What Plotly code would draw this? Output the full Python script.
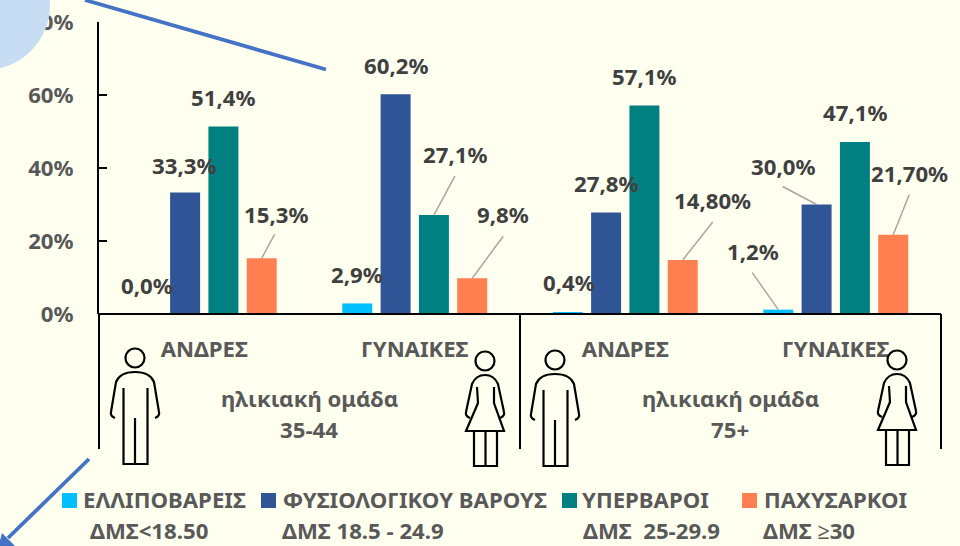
import plotly.graph_objects as go

# ---- data ----
GROUP_LABELS = ["ΑΝΔΡΕΣ", "ΓΥΝΑΙΚΕΣ", "ΑΝΔΡΕΣ", "ΓΥΝΑΙΚΕΣ"]
SERIES_NAMES = ["ΕΛΛΙΠΟΒΑΡΕΙΣ", "ΦΥΣΙΟΛΟΓΙΚΟΥ ΒΑΡΟΥΣ", "ΥΠΕΡΒΑΡΟΙ", "ΠΑΧΥΣΑΡΚΟΙ"]
SERIES_NOTES = ["ΔΜΣ<18.50", "ΔΜΣ 18.5 - 24.9", "ΔΜΣ  25-29.9", "ΔΜΣ ≥30"]
UNDERWEIGHT = [0.0, 2.9, 0.4, 1.2]
NORMAL = [33.3, 60.2, 27.8, 30.0]
OVERWEIGHT = [51.4, 27.1, 57.1, 47.1]
OBESE = [15.3, 9.8, 14.8, 21.7]
LABELS_UNDERWEIGHT = ["0,0%", "2,9%", "0,4%", "1,2%"]
LABELS_NORMAL = ["33,3%", "60,2%", "27,8%", "30,0%"]
LABELS_OVERWEIGHT = ["51,4%", "27,1%", "57,1%", "47,1%"]
LABELS_OBESE = ["15,3%", "9,8%", "14,80%", "21,70%"]
AGE_GROUPS = ["35-44", "75+"]
AGE_TITLE = "ηλικιακή ομάδα"
Y_TICKS = [0, 20, 40, 60, 80]

# ---- styling / layout ----
W, H = 960, 546
L, R, T, B = 99, 941, 22, 314
BG = "#FFFFF0"
COLORS = ["#00BFFF", "#2F5597", "#008080", "#FF7F50"]
GREY = "#595959"
DARK = "#404040"
LINE_BLUE = "#4472C4"
FONT = "Noto Sans"
FS = 22.2
BARGAP = 0.272
GROUPGAP = 0.217

# per-label offsets from bar top (px, up positive)
LABEL_SHIFTS = [
    [(0, 29), (0, 29), (1, 30), (-25, 58)],
    [(-1, 27), (0, 29), (0, 29), (-34, 38)],
    [(0, 29), (21, 61), (0, 29), (0, 30)],
    [(14, 44), (31, 64), (30, 59), (16, 61)],
]
# leader ends relative to bar top; None = no leader
LEADERS = [
    [None, None, None, (-26, 37)],
    [None, None, None, (-34, 18)],
    [None, (21, 39), None, None],
    [(13, 24), (31, 42), (30, 38), (16, 40)],
]

series = [UNDERWEIGHT, NORMAL, OVERWEIGHT, OBESE]
labels = [LABELS_UNDERWEIGHT, LABELS_NORMAL, LABELS_OVERWEIGHT, LABELS_OBESE]
positions = list(range(len(GROUP_LABELS)))
slot = (1 - BARGAP) / len(series)


def px(x):
    return (x - L) / (R - L)


def py(y):
    return (B - y) / (B - T)


fig = go.Figure()
for name, vals, color in zip(SERIES_NAMES, series, COLORS):
    fig.add_trace(go.Bar(x=positions, y=vals, name=name, marker=dict(color=color, line=dict(width=0))))

annotations = []
shapes = []


def page_text(x, y, text, size=FS, color=GREY, anchor="center"):
    annotations.append(dict(xref="paper", yref="paper", x=px(x), y=py(y), text=text, showarrow=False,
                            xanchor=anchor, yanchor="middle",
                            font=dict(family=FONT, size=size, color=color, weight="bold")))


for j, vals in enumerate(series):
    for i, v in enumerate(vals):
        xc = positions[i] + (j - 1.5) * slot
        dx, dy = LABEL_SHIFTS[j][i]
        annotations.append(dict(x=xc, y=v, xref="x", yref="y", text=labels[j][i], showarrow=False,
                                xshift=dx, yshift=dy, xanchor="center", yanchor="middle",
                                font=dict(family=FONT, size=FS, color=DARK, weight="bold")))
        if LEADERS[j][i]:
            lx, ly = LEADERS[j][i]
            shapes.append(dict(type="line", xref="x", yref="y", xsizemode="pixel", ysizemode="pixel",
                               xanchor=xc, yanchor=v, x0=0, y0=0, x1=lx, y1=ly,
                               line=dict(color="#A6A6A6", width=1.5), layer="above"))

# separators under the axis
for x in (L, 520, R):
    shapes.append(dict(type="line", xref="paper", yref="paper", x0=px(x), x1=px(x), y0=py(B), y1=py(449),
                       line=dict(color="black", width=2)))
shapes.append(dict(type="line", xref="paper", yref="paper", x0=0, x1=1, y0=0, y1=0,
                   line=dict(color="black", width=2)))

# age groups
for xc, age in zip((309, 730), AGE_GROUPS):
    page_text(xc, 398, AGE_TITLE)
    page_text(xc, 429.5, age)


def path_from(points, ox, oy, closed=False):
    parts = []
    for cmd, *coords in points:
        out = []
        for k in range(0, len(coords), 2):
            out.append(f"{px(ox + coords[k]):.5f},{py(oy + coords[k + 1]):.5f}")
        parts.append(cmd + " ".join(out))
    return " ".join(parts)


MAN = [
    ("M", 25, 118), ("Q", 20, 116, 21, 112), ("L", 26, 82), ("Q", 30, 72, 45, 72), ("Q", 60, 72, 64, 82),
    ("L", 69, 112), ("Q", 70, 116, 65, 118),
    ("M", 33.5, 88), ("L", 33.5, 164), ("L", 57.5, 164), ("L", 57.5, 88),
    ("M", 45, 118), ("L", 45, 164),
]
WOMAN = [
    ("M", 380, 118), ("Q", 375, 116, 376, 112), ("L", 382, 84), ("Q", 386, 75, 395, 75), ("Q", 404, 75, 408, 84),
    ("L", 414, 112), ("Q", 415, 116, 410, 118),
    ("M", 387, 87), ("L", 388, 103), ("L", 376, 131), ("L", 414, 131), ("L", 404, 103), ("L", 404, 87),
    ("M", 384, 131), ("L", 384, 166), ("L", 407, 166), ("L", 407, 131),
    ("M", 395.5, 131), ("L", 395.5, 166),
]
ICON_LINE = dict(color="black", width=2.2)


def add_head(cx, cy):
    r = 9.5
    shapes.append(dict(type="circle", xref="paper", yref="paper", x0=px(cx - r), x1=px(cx + r),
                       y0=py(cy + r), y1=py(cy - r), line=ICON_LINE))


for ox, oy in ((90, 300), (510, 302)):
    shapes.append(dict(type="path", xref="paper", yref="paper", path=path_from(MAN, ox, oy), line=ICON_LINE))
    add_head(ox + 45, oy + 58)
for ox, oy in ((90, 300), (502, 299)):
    shapes.append(dict(type="path", xref="paper", yref="paper", path=path_from(WOMAN, ox, oy), line=ICON_LINE))
    add_head(ox + 395, oy + 61)

# legend built as text and swatches
SWATCH_X = [62, 261, 562, 742]
TEXT_X = [81, 281, 580, 762]
NOTE_X = [88, 280, 581, 761]
for name, note, color, sx, tx, nx in zip(SERIES_NAMES, SERIES_NOTES, COLORS, SWATCH_X, TEXT_X, NOTE_X):
    shapes.append(dict(type="rect", xref="paper", yref="paper", x0=px(sx), x1=px(sx + 15),
                       y0=py(508), y1=py(493), fillcolor=color, line=dict(width=0)))
    page_text(tx, 499, name, anchor="left")
    page_text(nx, 530, note.replace("  ", "\u00a0\u00a0"), anchor="left")

# decorative circle and blue lines
shapes.append(dict(type="circle", xref="paper", yref="paper", x0=px(-15 - 65), x1=px(-15 + 65),
                   y0=py(5 + 65), y1=py(5 - 65), fillcolor="#C6DDF3", line=dict(width=0), layer="above"))
shapes.append(dict(type="line", xref="paper", yref="paper", x0=px(85), y0=py(0), x1=px(326), y1=py(69.5),
                   line=dict(color=LINE_BLUE, width=3.8)))
shapes.append(dict(type="line", xref="paper", yref="paper", x0=px(89), y0=py(459), x1=px(8), y1=py(538),
                   line=dict(color=LINE_BLUE, width=3.8)))
shapes.append(dict(type="path", xref="paper", yref="paper",
                   path=f"M{px(-2):.5f},{py(548):.5f} L{px(2):.5f},{py(533):.5f} L{px(15):.5f},{py(546):.5f} Z",
                   fillcolor=LINE_BLUE, line=dict(width=0)))

fig.update_layout(
    width=W, height=H, autosize=False,
    paper_bgcolor=BG, plot_bgcolor=BG,
    margin=dict(l=L, r=W - R, t=T, b=H - B, pad=0, autoexpand=False),
    barmode="group", bargap=BARGAP, bargroupgap=GROUPGAP,
    showlegend=False,
    font=dict(family=FONT, color=GREY, size=FS),
    annotations=annotations, shapes=shapes,
    xaxis=dict(automargin=False, range=[-0.5, 3.5], tickmode="array", tickvals=positions, ticktext=GROUP_LABELS,
               ticks="outside", ticklen=15, tickcolor="rgba(0,0,0,0)", showgrid=False, zeroline=False,
               showline=False, tickfont=dict(family=FONT, size=FS, color=GREY, weight="bold")),
    yaxis=dict(automargin=False, range=[0, 80], tickmode="array", tickvals=Y_TICKS, ticktext=[f"{v}%" for v in Y_TICKS],
               ticks="inside", ticklen=8, tickwidth=2, tickcolor="black", showgrid=False, zeroline=False,
               showline=True, linecolor="black", linewidth=2, ticklabelstandoff=19,
               tickfont=dict(family=FONT, size=FS, color=GREY, weight="bold")),
)

fig.write_html("out.html", config=dict(displayModeBar=False),
               post_script="document.body.style.margin='0';document.body.style.overflow='hidden';document.body.style.background='#FFFFF0';")
